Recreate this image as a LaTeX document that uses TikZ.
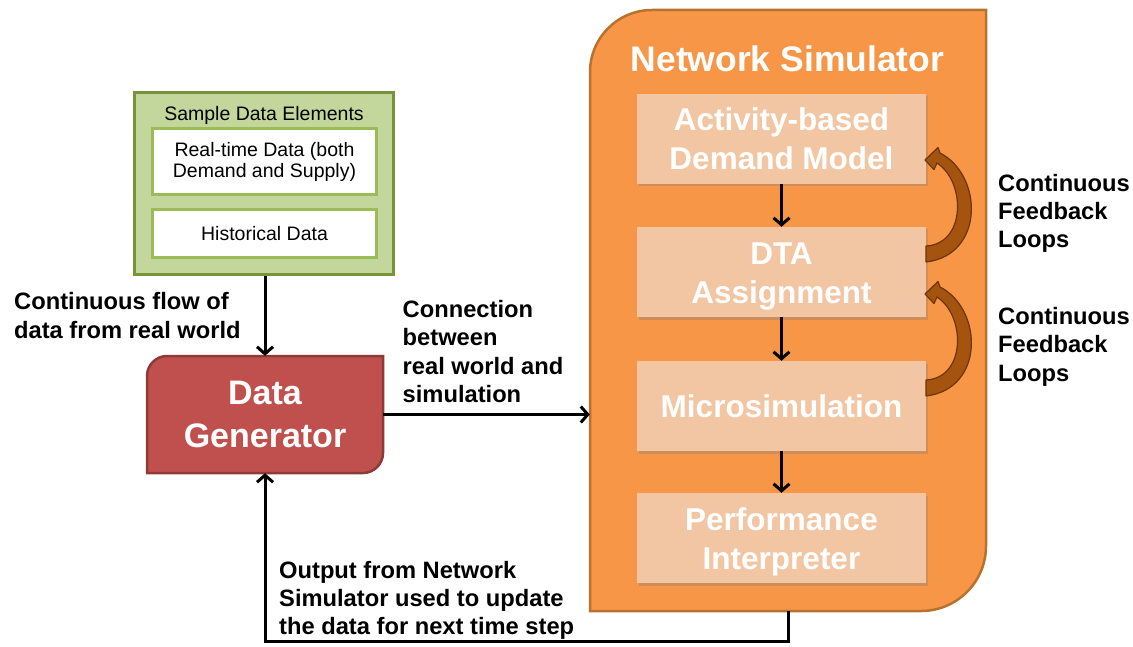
\documentclass[tikz,border=0pt]{standalone}
\usepackage{fontspec}
\setmainfont{Liberation Sans}
\usetikzlibrary{arrows.meta,shadows,calc}
\definecolor{nsfill}{HTML}{F79646}
\definecolor{nsdraw}{HTML}{B8722F}
\definecolor{peach}{HTML}{F2C6A2}
\definecolor{gfill}{HTML}{C3D69B}
\definecolor{gdraw}{HTML}{77933C}
\definecolor{gin}{HTML}{9BBB59}
\definecolor{rfill}{HTML}{C0504D}
\definecolor{rdraw}{HTML}{8E3B38}
\definecolor{fbfill}{HTML}{A4540F}
\definecolor{fbdraw}{HTML}{6E3508}
\begin{document}
\begin{tikzpicture}[x=1pt,y=-1pt,
  arr/.style={line width=3pt,-{Straight Barb[length=7pt,width=16pt]}},
  stagebox/.style={fill=peach,minimum width=289pt,minimum height=90pt,inner sep=0pt,
    drop shadow={shadow xshift=2pt,shadow yshift=-2.5pt,opacity=0.35}},
  stagetext/.style={inner sep=0pt,text=white,font=\bfseries\fontsize{31.5}{39}\selectfont,align=center},
  databox/.style={fill=white,draw=gin,line width=3pt,minimum width=224pt,inner sep=0pt,
    font=\fontsize{19.5}{21.5}\selectfont,align=center},
  lbl/.style={anchor=north west,align=left,inner sep=0pt,
    font=\bfseries\fontsize{23.7}{28.3}\selectfont},
  fbarrow/.style={fill=fbfill,draw=fbdraw,line width=1.2pt,line join=round}
]
\useasboundingbox (0,0) rectangle (1133,647);

% Network Simulator container
\filldraw[fill=nsfill,draw=nsdraw,line width=2.5pt]
  (590,611) -- (590,72) .. controls (590,37.8) and (617.8,10) .. (652,10)
  -- (986,10) -- (986,546) .. controls (986,581.9) and (956.9,611) .. (921,611) -- cycle;
\node[minimum width=396pt,minimum height=601pt,inner sep=0pt] (ns) at (788,310.5) {};
\node[anchor=base,inner sep=0pt,text=white,font=\bfseries\fontsize{35.5}{40}\selectfont]
  (nstitle) at (787.5,72) {Network Simulator};

% stages
\node[stagebox] (adm) at (781.5,139) {};
\node[stagebox] (dta) at (781.5,272) {};
\node[stagebox] (mic) at (781.5,406) {};
\node[stagebox] (per) at (781.5,538) {};
\node[stagetext] (admt) at (781.5,139) {Activity-based\\Demand Model};
\node[stagetext] (dtat) at (781.5,277) {DTA\\Assignment};
\node[stagetext] (mict) at (781.5,406) {Microsimulation};
\node[stagetext] (pert) at (781.5,541.5) {Performance\\Interpreter};
\draw[arr] (adm.south) -- (dta.north);
\draw[arr] (dta.south) -- (mic.north);
\draw[arr] (mic.south) -- (per.north);

% feedback loops
\foreach \dy in {0,134}{
  \begin{scope}[shift={(0,\dy)}]
    \filldraw[fbarrow] (926,262) .. controls (985,255) and (983,175) .. (940,153)
      -- (938,147.5) -- (925,160) -- (934,169.5) -- (937,163)
      .. controls (966,182) and (966,244) .. (926,246) -- cycle;
  \end{scope}
}
\node[lbl] (fb1) at (998,173.8) {Continuous\\Feedback\\Loops};
\node[lbl] (fb2) at (998,307.1) {Continuous\\Feedback\\Loops};

% Sample data elements
\node[fill=gfill,draw=gdraw,line width=3pt,minimum width=259pt,minimum height=182pt,inner sep=0pt]
  (sde) at (263.5,184) {};
\node[anchor=base,inner sep=0pt,font=\fontsize{19.5}{21.5}\selectfont] (sdet) at (264,121) {Sample Data Elements};
\node[databox,minimum height=66pt] (rt) at (264.5,162) {Real-time Data (both\\Demand and Supply)};
\node[databox,minimum height=48pt] (hist) at (264.5,234) {Historical Data};

% Data generator
\filldraw[fill=rfill,draw=rdraw,line width=2.5pt]
  (147,473) -- (147,376) .. controls (147,365) and (156,356) .. (167,356)
  -- (383,356) -- (383,453) .. controls (383,464) and (374,473) .. (363,473) -- cycle;
\node[minimum width=236pt,minimum height=117pt,inner sep=0pt,text=white,align=center,
  font=\bfseries\fontsize{34}{43}\selectfont] (dg) at (265,414.5) {Data\\Generator};

% connectors
\draw[arr] (dg.north |- sde.south) -- (dg.north);
\draw[arr] (dg.east) -- (dg.east -| ns.west);
\draw[arr] (ns.south) -- ++(0,30) -| (dg.south);

% labels
\node[lbl] (l1) at (14,292.5) {Continuous flow of\\data from real world};
\node[lbl,font=\bfseries\fontsize{23.7}{28.1}\selectfont] (l2) at (402.5,300.5) {Connection\\between\\real world and\\simulation};
\node[lbl,font=\bfseries\fontsize{23.7}{28}\selectfont] (l3) at (279,561.5) {Output from Network\\Simulator used to update\\the data for next time step};
\end{tikzpicture}
\end{document}
